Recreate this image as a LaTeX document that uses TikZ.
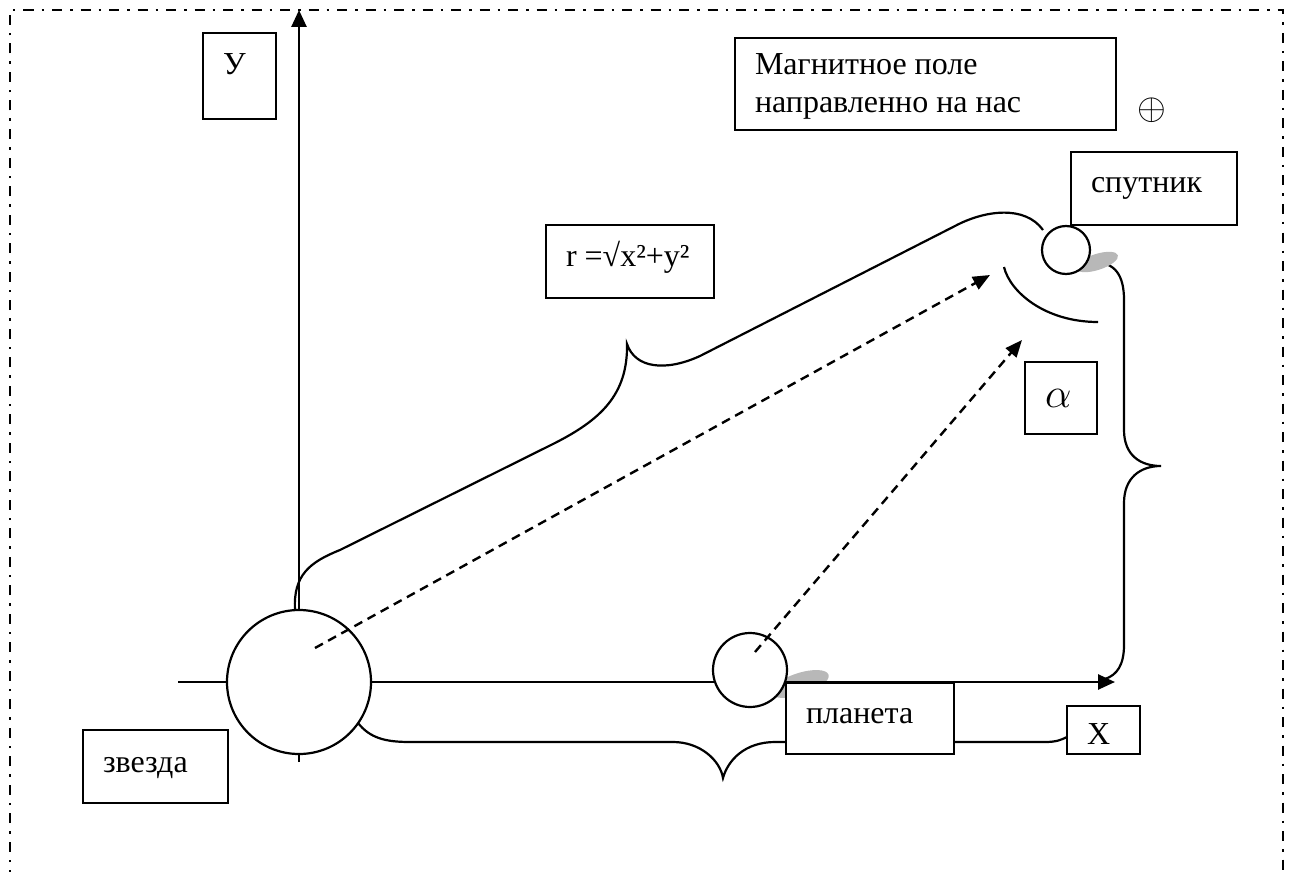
\RequirePackage{fix-cm}
\documentclass[tikz,border=0pt]{standalone}
\usepackage{fontspec}
\setmainfont{Liberation Serif}
\usetikzlibrary{arrows.meta}
\tikzset{
	lbl/.style={draw, line width=2pt, fill=white, anchor=north west, align=flush left,
		inner xsep=20pt, inner ysep=0pt, outer sep=0pt, font=\fontsize{32}{38}\selectfont},
	body/.style={draw, circle, line width=2.2pt, fill=white, inner sep=0pt},
	brace/.style={line width=2.2pt},
	axis/.style={line width=2.6pt, -{Triangle[length=17pt,width=15pt]}},
	dasharrow/.style={line width=2.4pt, dash pattern=on 9pt off 6pt, -{Triangle[length=17pt,width=14pt]}},
	shade/.style={fill=black!28},
}

\begin{document}
\begin{tikzpicture}[x=1pt,y=-1pt]
			%%%%% START %%%%%
			\useasboundingbox (0,0) rectangle (1293,872);
			\draw[line width=2.2pt, dash pattern=on 10pt off 8pt on 2.5pt off 8pt] (10,880) -- (10,10) -- (1283,10) -- (1283,880);
			
			% braces
			\draw[brace] (295,610) .. controls (293,575) and (310,562) .. (340,550) -- (555,443)
				.. controls (600,420) and (628,395) .. (627,344)
				.. controls (635,368) and (665,372) .. (700,356) -- (955,226)
				.. controls (985,210) and (1025,205) .. (1043,230);
			\draw[brace] (1093,262) .. controls (1115,262) and (1124,275) .. (1124,300) -- (1124,430)
				.. controls (1124,455) and (1140,466) .. (1161,466)
				.. controls (1140,466) and (1124,478) .. (1124,503) -- (1124,645)
				.. controls (1124,665) and (1117,675) .. (1105,679);
			\draw[brace] (358,723) .. controls (370,738) and (385,742) .. (410,742) -- (673,742)
				.. controls (700,742) and (720,760) .. (723,778)
				.. controls (728,760) and (745,742) .. (775,742) -- (1045,742)
				.. controls (1056,742) and (1061,740) .. (1067,737);
			\draw[brace] (1004,267) .. controls (1010,292) and (1045,322) .. (1098,322);
			
			% shadows
			\fill[shade, rotate around={18:(800,684)}] (800,684) ellipse [x radius=30, y radius=11];
			\fill[shade, rotate around={18:(1097,262)}] (1097,262) ellipse [x radius=22, y radius=8];
			
			% axes
			\coordinate (ybot) at (299,762);
			\coordinate (ytop) at (299,10);
			\coordinate (xleft) at (178,682);
			\coordinate (xright) at (1115,682);
			\draw[axis] (ybot) -- (ytop);
			\draw[axis] (xleft) -- (xright);
			
			% bodies
			\node[body, minimum size=144pt] (star) at (299,682) {};
			\node[body, minimum size=74pt] (planet) at (750,670) {};
			\node[body, minimum size=48pt] (sat) at (1066,250) {};
			
			% radius vectors
			\coordinate (r0) at (315,648);
			\coordinate (r1) at (990,275);
			\coordinate (p0) at (755,652);
			\coordinate (p1) at (1022,340);
			\draw[dasharrow] (r0) -- (r1);
			\draw[dasharrow] (p0) -- (p1);
			
			% labels
			\node[lbl, text width=33pt, text height=42pt, text depth=44pt] (ylbl) at (203,33) {У};
			\node[lbl, text width=341pt, text height=37pt, text depth=55pt] (field) at (735,38) {Магнитное поле\\направленно на нас};
			\node[font=\fontsize{37}{40}\selectfont, inner sep=0pt] (plus) at (1152,110) {$\oplus$};
			\node[lbl, text width=126pt, text height=41pt, text depth=32pt] (satlbl) at (1071,152) {спутник};
			\node[lbl, text width=128pt, text height=41pt, text depth=32pt] (rlbl) at (546,225) {r =√x²+y²};
			\node[lbl, text width=32pt, text height=45pt, text depth=27pt, font=\fontsize{42}{44}\selectfont] (alpha) at (1025,362) {$\alpha$};
			\node[lbl, text width=105pt, text height=42pt, text depth=31pt] (starlbl) at (83,730) {звезда};
			\node[lbl, text width=128pt, text height=40pt, text depth=31pt] (planetlbl) at (786,683) {планета};
			\node[lbl, text width=33pt, text height=38pt, text depth=10pt] (xlbl) at (1067,706) {Х};
			%%%%% END %%%%%
\end{tikzpicture}
\end{document}
